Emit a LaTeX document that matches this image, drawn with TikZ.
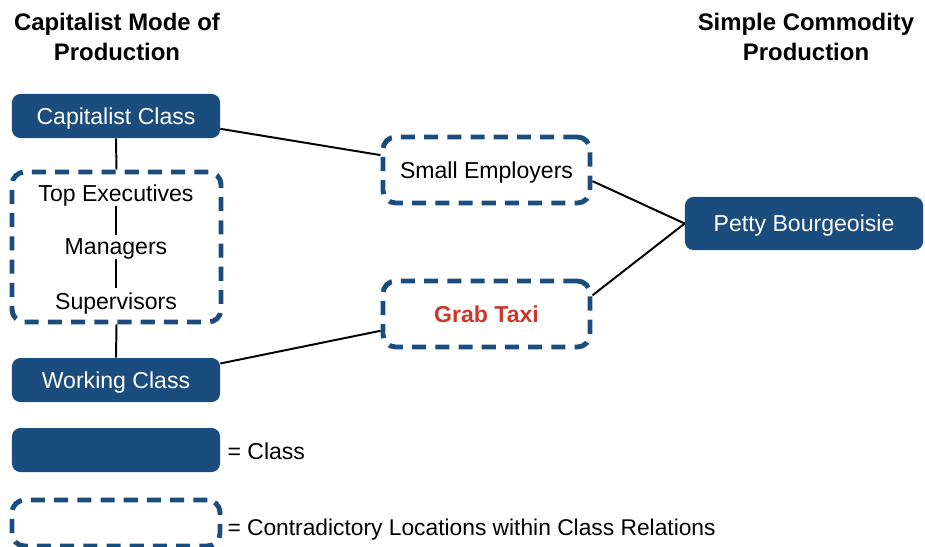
\documentclass[tikz,border=0pt]{standalone}
\usepackage{fontspec}
\setmainfont{Liberation Sans}
\usetikzlibrary{positioning}
\definecolor{classblue}{RGB}{27,76,126}
\definecolor{taxired}{RGB}{200,57,43}

\begin{document}
\begin{tikzpicture}[x=0.025cm, y=-0.025cm,
    classnode/.style={rectangle, rounded corners=6pt, fill=classblue, text=white,
        minimum width=5.2cm, minimum height=1.1cm, text depth=0pt,
        font=\fontsize{16.4}{19}\selectfont},
    contranode/.style={rectangle, rounded corners=9pt, draw=classblue, line width=3.5pt,
        dash pattern=on 10pt off 6.5pt, minimum width=5.175cm, minimum height=1.65cm,
        text depth=0pt, font=\fontsize{16.4}{19}\selectfont},
    headnode/.style={align=center, font=\bfseries\fontsize{17}{21.5}\selectfont},
    plainnode/.style={font=\fontsize{16.4}{19}\selectfont, inner sep=3pt, text depth=0pt},
    link/.style={draw=black, line width=1.4pt}
    ]
        \useasboundingbox (0,0) rectangle (925,546);

        %Headings
        \node[headnode] (hcap) at (117,37) {Capitalist Mode of\\Production};
        \node[headnode] (hscp) at (806,37) {Simple Commodity\\Production};

        %Classes
        \node[classnode] (cc) at (116,116) {Capitalist Class};
        \node[classnode] (wc) at (116,380) {Working Class};
        \node[classnode, minimum width=5.95cm, minimum height=1.325cm]
            (pb) at (804,223.5) {Petty Bourgeoisie};

        %Contradictory locations
        \node[contranode, minimum width=5.225cm, minimum height=3.75cm]
            (mgr) at (116.5,247) {};
        \node[plainnode] (te) at (116,193) {Top Executives};
        \node[plainnode] (mg) at (116,247) {Managers};
        \node[plainnode] (sv) at (116,301) {Supervisors};
        \node[contranode] (se) at (486.5,170) {Small Employers};
        \node[contranode, text=taxired, font=\bfseries\fontsize{16.4}{19}\selectfont]
            (gt) at (486.5,314) {Grab Taxi};

        %Lines
        \draw[link] (cc.south) -- (mgr.north);
        \draw[link] (mgr.south) -- (wc.north);
        \draw[link] (te) -- (mg);
        \draw[link] (mg) -- (sv);
        \draw[link] (cc.-7) -- (se.172);
        \draw[link] (se.-6) -- (pb.west);
        \draw[link] (gt.10) -- (pb.west);
        \draw[link] (wc.9) -- (gt.189);

        %Key
        \node[classnode] (kc) at (116,450) {};
        \node[plainnode, anchor=west] (kct) at (223,451) {= Class};
        \node[contranode, minimum width=5.2cm, minimum height=1.15cm] (kl) at (116,523) {};
        \node[plainnode, anchor=west, font=\fontsize{16.2}{19}\selectfont] (klt) at (223,527)
            {= Contradictory Locations within Class Relations};
\end{tikzpicture}
\end{document}
